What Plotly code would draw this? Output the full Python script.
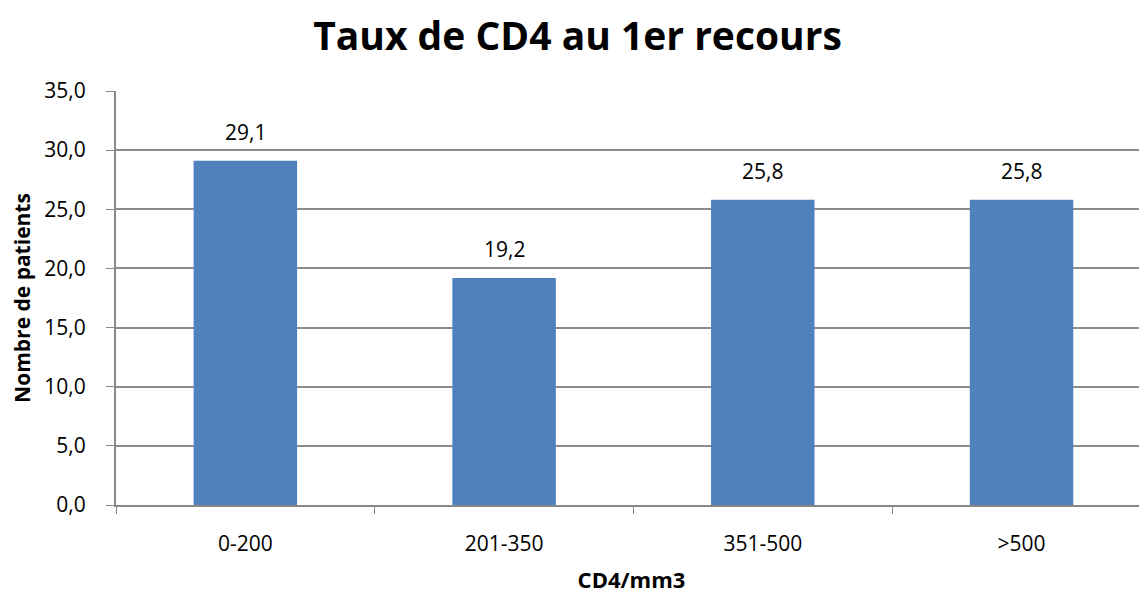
import plotly.graph_objects as go

categories = ["0-200", "201-350", "351-500", ">500"]
values = [29.1, 19.2, 25.8, 25.8]
y_ticks = [0, 5, 10, 15, 20, 25, 30, 35]

FONT = "Open Sans, sans-serif"

fig = go.Figure()
fig.add_trace(go.Bar(
    x=categories, y=values, width=0.40,
    marker=dict(color="#4F81BD", line=dict(width=0)),
    hoverinfo="x+y",
))
for c, v in zip(categories, values):
    fig.add_annotation(
        x=c, y=v, text=f"{v:.1f}".replace(".", ","), showarrow=False,
        yanchor="bottom", yshift=13,
        font=dict(family=FONT, size=21, color="#000"),
    )
# body has an 8px margin in the page; compensate in size and margins
fig.update_layout(
    width=1139, height=586,
    margin=dict(l=108, r=0, t=83, b=89),
    paper_bgcolor="white", plot_bgcolor="white",
    separators=",.",
    showlegend=False,
    title=dict(text="<b>Taux de CD4 au 1er recours</b>", x=0.5, xanchor="center",
               y=1 - 28 / 586, yanchor="middle",
               font=dict(family=FONT, size=39, color="#000")),
)
fig.update_xaxes(
    range=[-0.5, 3.485], showline=True, linecolor="#888", linewidth=2,
    ticks="outside", tickson="boundaries", ticklen=7, tickcolor="#888", tickwidth=1,
    ticklabelstandoff=19,
    tickfont=dict(family=FONT, size=21, color="#000"),
    title=dict(text="<b>CD4/mm3</b>", font=dict(family=FONT, size=22, color="#000"), standoff=18),
    showgrid=False,
)
fig.update_yaxes(
    range=[0, 35], tickvals=y_ticks, tickformat=".1f",
    showline=True, linecolor="#888", linewidth=2,
    ticks="outside", ticklen=8, tickcolor="#888", tickwidth=1,
    ticklabelstandoff=16,
    showgrid=True, gridcolor="#8c8c8c", gridwidth=1.5,
    tickfont=dict(family=FONT, size=21, color="#000"),
    title=dict(text="<b>Nombre de patients</b>", font=dict(family=FONT, size=21, color="#000"), standoff=10),
    zeroline=False,
)
fig.write_html("out.html")
